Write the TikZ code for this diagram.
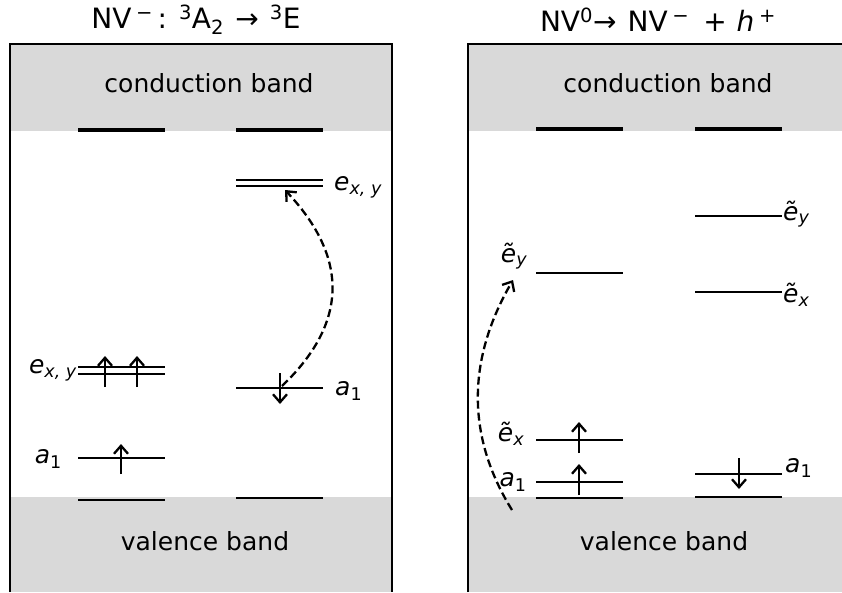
\documentclass[tikz,border=0pt]{standalone}
\usepackage{fontspec}
\setmainfont{DejaVu Sans}
\usetikzlibrary{positioning,arrows.meta}
\definecolor{bandgray}{HTML}{D9D9D9}

\begin{document}
\begin{tikzpicture}[x=1pt,y=-1pt,
  lvl/.style={line width=2.6pt},
  bandedge/.style={line width=3.8pt},
  frame/.style={line width=1.6pt},
  spin/.style={-{Straight Barb[length=8pt,width=14pt,line width=2.3pt]},line width=2.3pt},
  hop/.style={spin,dash pattern=on 8pt off 4pt},
  lbl/.style={font=\fontsize{25}{30}\selectfont,inner sep=0pt},
  ttl/.style={font=\fontsize{28}{32}\selectfont,inner sep=0pt}]
\useasboundingbox (0,0) rectangle (842,592);
% bands
\fill[bandgray] (10,44) rectangle (392,131);
\fill[bandgray] (10,497) rectangle (392,592);
\fill[bandgray] (468,44) rectangle (842,131);
\fill[bandgray] (468,497) rectangle (842,592);
\draw[frame] (10,592) -- (10,44) -- (392,44) -- (392,592);
\draw[frame] (468,592) -- (468,44) -- (842,44);
\node[lbl] (cbL) at (209,83) {conduction band};
\node[lbl] (vbL) at (205,541) {valence band};
\node[lbl] (cbR) at (668,83) {conduction band};
\node[lbl] (vbR) at (664,541) {valence band};
\node[ttl] (titL) at (196,20) {NV\,\textsuperscript{−}\,: \textsuperscript{3}A\textsubscript{2}\hspace{0.4em}→\hspace{0.4em}\textsuperscript{3}E};
\node[ttl] (titR) at (658,20) {NV\textsuperscript{0}→\hspace{0.4em}NV\,\textsuperscript{−}\hspace{0.5em}+\hspace{0.35em}{\itshape h}\,\textsuperscript{+}};

% left panel: 3A2 -> 3E
\draw[bandedge] (78,130) -- (165,130);
\draw[bandedge] (236,130) -- (323,130);
\draw[lvl] (236,180) -- (323,180);
\draw[lvl] (236,186) -- (323,186);
\draw[lvl] (78,367) -- (165,367);
\draw[lvl] (78,374) -- (165,374);
\draw[lvl] (78,458) -- (165,458);
\draw[lvl] (236,388) -- (323,388);
\draw[lvl] (78,500) -- (165,500);
\draw[lvl] (236,498) -- (323,498);
\node[lbl,anchor=west] (exyR) at (334,187) {\itshape e\textsubscript{x, y}};
\node[lbl,anchor=east] (exyL) at (77,370) {\itshape e\textsubscript{x, y}};
\node[lbl,anchor=east] (a1L) at (62,459) {{\itshape a}\textsubscript{1}};
\node[lbl,anchor=west] (a1R) at (335,391) {{\itshape a}\textsubscript{1}};
\coordinate (s1a) at (105,387); \coordinate (s1b) at (105,356);
\coordinate (s2a) at (137,387); \coordinate (s2b) at (137,356);
\coordinate (s3a) at (121,474); \coordinate (s3b) at (121,444);
\coordinate (s4a) at (280,373); \coordinate (s4b) at (280,404);
\draw[spin] (s1a) -- (s1b);
\draw[spin] (s2a) -- (s2b);
\draw[spin] (s3a) -- (s3b);
\draw[spin] (s4a) -- (s4b);
\coordinate (hopA) at (282,386);
\coordinate (hopB) at (285,190);
\draw[hop] (hopA) .. controls (348,323) and (349,258) .. (hopB);

% right panel: NV0 -> NV- + h+
\draw[bandedge] (536,129) -- (623,129);
\draw[bandedge] (695,129) -- (782,129);
\draw[lvl] (695,216) -- (782,216);
\draw[lvl] (695,292) -- (782,292);
\draw[lvl] (536,273) -- (623,273);
\draw[lvl] (536,440) -- (623,440);
\draw[lvl] (536,482) -- (623,482);
\draw[lvl] (536,498) -- (623,498);
\draw[lvl] (695,474) -- (782,474);
\draw[lvl] (695,497) -- (782,497);
\node[lbl,anchor=west] (eyR) at (783,214) {\itshape ẽ\textsubscript{y}};
\node[lbl,anchor=west] (exR) at (783,295) {\itshape ẽ\textsubscript{x}};
\node[lbl,anchor=west] (a1RR) at (785,468) {{\itshape a}\textsubscript{1}};
\node[lbl] (eyL) at (514,256) {\itshape ẽ\textsubscript{y}};
\node[lbl] (exL) at (511,434) {\itshape ẽ\textsubscript{x}};
\node[lbl] (a1LL) at (513,482) {{\itshape a}\textsubscript{1}};
\coordinate (s5a) at (579,453); \coordinate (s5b) at (579,422);
\coordinate (s6a) at (579,495); \coordinate (s6b) at (579,464);
\coordinate (s7a) at (739,458); \coordinate (s7b) at (739,489);
\draw[spin] (s5a) -- (s5b);
\draw[spin] (s6a) -- (s6b);
\draw[spin] (s7a) -- (s7b);
\coordinate (holeA) at (512,510);
\coordinate (holeB) at (513,280);
\draw[hop] (holeA) .. controls (466,436) and (467,359) .. (holeB);
\end{tikzpicture}
\end{document}
